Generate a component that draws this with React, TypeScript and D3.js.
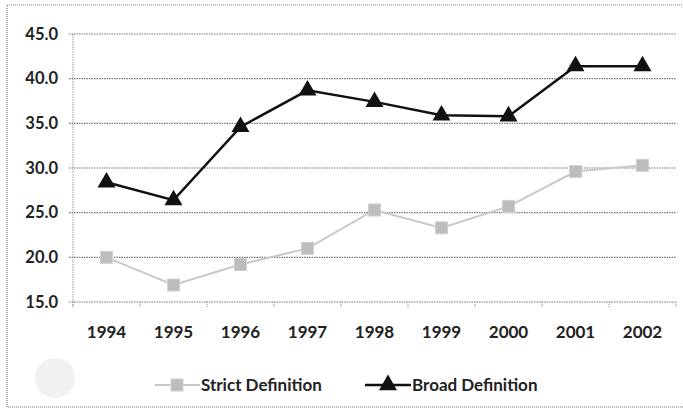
import React from "react";
import * as d3 from "d3";

const years = ["1994", "1995", "1996", "1997", "1998", "1999", "2000", "2001", "2002"];
const strictValues = [20.0, 16.9, 19.2, 21.0, 25.3, 23.3, 25.7, 29.6, 30.3];
const broadValues = [28.4, 26.4, 34.6, 38.7, 37.4, 35.9, 35.8, 41.4, 41.4];
const yTicks = [15, 20, 25, 30, 35, 40, 45];
const seriesNames = ["Strict Definition", "Broad Definition"];

const W = 683;
const H = 409;
const FONT = "Lato, 'Open Sans', sans-serif";

export default function App() {
  const left = 73;
  const right = 676;
  const top = 34;
  const bottom = 302;

  const x = d3.scaleBand<string>().domain(years).range([left, right]);
  const y = d3.scaleLinear().domain([15, 45]).range([bottom, top]);
  const cx = (yr: string) => (x(yr) as number) + x.bandwidth() / 2;

  const line = d3
    .line<number>()
    .x((_, i) => cx(years[i]))
    .y((d) => y(d));

  const tri = d3.symbol().type(d3.symbolTriangle).size(140)();
  const sq = 12;

  return (
    <svg
      width={W}
      height={H}
      style={{ position: "absolute", left: 0, top: 0, background: "#fff" }}
      fontFamily={FONT}
    >
      <rect x={0} y={0} width={W} height={H} fill="#fff" />
      {/* outer dotted border */}
      <rect
        x={7}
        y={5}
        width={690}
        height={402}
        fill="none"
        stroke="#777"
        strokeWidth={1.2}
        strokeDasharray="1,1"
      />
      {/* faint circle artifact */}
      <circle cx={55} cy={378} r={20} fill="#f1f1f1" />

      {/* gridlines */}
      {yTicks.map((t) => (
        <line
          key={t}
          x1={left - 4}
          x2={right}
          y1={y(t)}
          y2={y(t)}
          stroke="#777"
          strokeWidth={1.2}
          strokeDasharray="1.5,1"
        />
      ))}
      {/* y axis line */}
      <line x1={left} x2={left} y1={top} y2={bottom + 4} stroke="#999" strokeWidth={1} strokeDasharray="1.5,1" />
      {/* x ticks */}
      {years.concat(["end"]).map((yr, i) => {
        const xx = left + i * x.bandwidth();
        return (
          <line key={yr} x1={xx} x2={xx} y1={bottom} y2={bottom + 5} stroke="#888" strokeWidth={1} strokeDasharray="1,1" />
        );
      })}
      {/* y labels */}
      {yTicks.map((t) => (
        <text
          key={t}
          x={58}
          y={y(t)}
          dy="0.35em"
          textAnchor="end"
          fontSize={16.5}
          fontWeight="bold"
          fill="#222"
        >
          {d3.format(".1f")(t)}
        </text>
      ))}
      {/* x labels */}
      {years.map((yr) => (
        <text
          key={yr}
          x={cx(yr)}
          y={332}
          dy="0.35em"
          textAnchor="middle"
          fontSize={17}
          fontWeight="bold"
          fill="#222"
        >
          {yr}
        </text>
      ))}

      {/* strict series */}
      <path d={line(strictValues) || ""} fill="none" stroke="#c8c8c8" strokeWidth={2} />
      {strictValues.map((v, i) => (
        <rect
          key={i}
          x={cx(years[i]) - sq / 2}
          y={y(v) - sq / 2}
          width={sq}
          height={sq}
          fill="#bdbdbd"
          stroke="#d0d0d0"
          strokeWidth={1}
        />
      ))}

      {/* broad series */}
      <path d={line(broadValues) || ""} fill="none" stroke="#111" strokeWidth={2.5} />
      {broadValues.map((v, i) => (
        <path key={i} d={tri || ""} transform={`translate(${cx(years[i])},${y(v)})`} fill="#111" />
      ))}

      {/* legend */}
      <g>
        <line x1={155} x2={200} y1={385} y2={385} stroke="#c8c8c8" strokeWidth={2} />
        <rect x={177 - sq / 2} y={385 - sq / 2} width={sq} height={sq} fill="#bdbdbd" stroke="#d0d0d0" />
        <text x={201} y={385} dy="0.35em" fontSize={17} fontWeight="bold" fill="#222">
          {seriesNames[0]}
        </text>
        <line x1={365} x2={411} y1={385} y2={385} stroke="#111" strokeWidth={2.5} />
        <path d={tri || ""} transform={`translate(388,385)`} fill="#111" />
        <text x={412} y={385} dy="0.35em" fontSize={17} fontWeight="bold" fill="#222">
          {seriesNames[1]}
        </text>
      </g>
    </svg>
  );
}
